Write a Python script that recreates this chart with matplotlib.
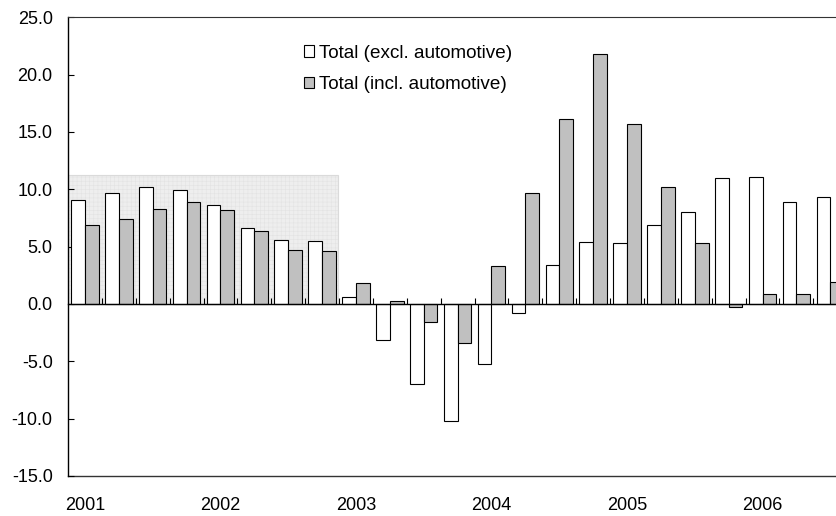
import matplotlib
matplotlib.use("Agg")
import matplotlib.pyplot as plt
from matplotlib.patches import Rectangle
import numpy as np

plt.rcParams["font.family"] = ["Liberation Sans", "DejaVu Sans"]
plt.rcParams["axes.unicode_minus"] = False
plt.rcParams["hatch.linewidth"] = 0.4

# Quarterly growth, 2001 Q1 - 2006 Q3
quarters = [f"{y}Q{q}" for y in range(2001, 2007) for q in range(1, 5)][:23]
excl_auto = [9.1, 9.7, 10.2, 9.9, 8.6, 6.6, 5.6, 5.5,
             0.6, -3.1, -7.0, -10.2, -5.2, -0.8, 3.4, 5.4,
             5.3, 6.9, 8.0, 11.0, 11.1, 8.9, 9.3]
incl_auto = [6.9, 7.4, 8.3, 8.9, 8.2, 6.4, 4.7, 4.6,
             1.8, 0.3, -1.6, -3.4, 3.3, 9.7, 16.1, 21.8,
             15.7, 10.2, 5.3, -0.3, 0.9, 0.9, 1.9]
year_labels = ["2001", "2002", "2003", "2004", "2005", "2006"]
series_names = ["Total (excl. automotive)", "Total (incl. automotive)"]
highlight_quarters = 8      # 2001-2002 period shaded
highlight_top = 11.25

W, H = 837, 516
fig = plt.figure(figsize=(W / 100, H / 100), dpi=100)
ax = fig.add_axes([68 / W, 1 - 476 / H, 1 - 68 / W, (476 - 17.3) / H])

n = len(quarters)
idx = np.arange(n)
bw = 0.405
centers = idx + 0.5

# shaded background block
shade = Rectangle((0, 0), highlight_quarters - 0.03, highlight_top,
                  facecolor="#eeeeee", edgecolor="#dadada", linewidth=0.8,
                  hatch="++++", zorder=0.5)
ax.add_patch(shade)
shade._hatch_color = matplotlib.colors.to_rgba("#e3e3e3")

b1 = ax.bar(centers - bw / 2, excl_auto, bw, color="white", edgecolor="black",
            linewidth=0.8, zorder=2, label=series_names[0])
b2 = ax.bar(centers + bw / 2, incl_auto, bw, color="#c0c0c0", edgecolor="black",
            linewidth=0.8, zorder=2, label=series_names[1])

ax.set_xlim(0, 769 / 33.88)
ax.set_ylim(-15, 25)
ax.set_yticks(np.arange(-15, 26, 5))
ax.set_yticklabels([f"{v:.1f}" for v in np.arange(-15, 26, 5)])
ax.tick_params(axis="y", direction="in", length=4, width=0.8, pad=11,
               labelsize=13, colors="black")

# category axis crossing at zero, with boundary ticks pointing up
ax.spines["bottom"].set_position(("data", 0))
ax.spines["bottom"].set_linewidth(1.0)
ax.spines["right"].set_visible(False)
ax.spines["top"].set_color("#333333")
ax.spines["left"].set_linewidth(1.0)
ax.set_xticks([])
ax.set_xticks(np.arange(1, n), minor=True)
ax.tick_params(axis="x", which="minor", direction="in", length=4.5, width=0.8,
               labelbottom=False)

# year labels along the bottom edge
sec = ax.secondary_xaxis("bottom")
sec.set_xticks(np.arange(0, n, 4) + 0.5)
sec.set_xticklabels(year_labels[: len(np.arange(0, n, 4))])
sec.tick_params(length=0, pad=15, labelsize=13)
sec.spines["bottom"].set_color("#333333")
sec.spines["bottom"].set_linewidth(1.0)

fig.legend(handles=[b1, b2], labels=series_names, loc="upper left",
           bbox_to_anchor=(304 / W, 1 - 44.5 / H), frameon=False,
           borderpad=0, borderaxespad=0, handlelength=0.55, handleheight=0.55,
           handletextpad=0.25, labelspacing=0.78, fontsize=13.6)

fig.savefig("out.png", dpi=100)
